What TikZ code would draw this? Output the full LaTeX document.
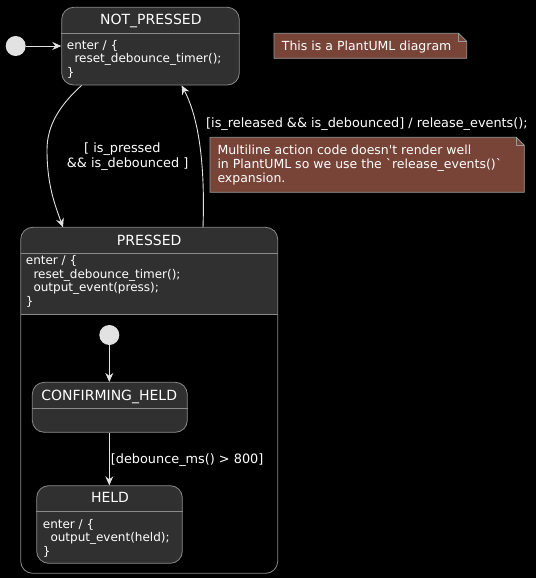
\documentclass[tikz,border=0pt]{standalone}
\usepackage{fontspec}
\setmainfont{DejaVu Sans}[Ligatures=TeXOff]
\usetikzlibrary{arrows.meta}
\definecolor{stfill}{HTML}{303030}
\definecolor{stline}{HTML}{8A8A8A}
\definecolor{edgec}{HTML}{E2E2E2}
\definecolor{notefill}{HTML}{774437}
\definecolor{noteline}{HTML}{9A9A9A}
\begin{document}
\begin{tikzpicture}[x=1pt,y=-1pt,
  statebox/.style={draw=stline, fill=stfill, rounded corners=12pt, line width=0.8pt, inner sep=0pt},
  ghost/.style={inner sep=0pt, outer sep=0pt},
  sep/.style={draw=stline, line width=0.8pt},
  ttl/.style={text=white, font=\fontsize{14}{16}\selectfont, anchor=base, inner sep=0pt},
  bodytxt/.style={text=white, font=\fontsize{12}{14}\selectfont, anchor=base west, inner sep=0pt},
  lbl/.style={text=white, font=\fontsize{12.85}{15}\selectfont, anchor=base west, inner sep=0pt},
  notetxt/.style={text=white, font=\fontsize{12.5}{14.5}\selectfont, anchor=base west, inner sep=0pt},
  notebox/.style={draw=noteline, fill=notefill, line width=0.8pt},
  edge/.style={draw=edgec, line width=0.9pt, -{Stealth[length=9pt,width=8pt,inset=3pt]}},
  init/.style={circle, fill=edgec, minimum size=20pt, inner sep=0pt}]
\useasboundingbox[fill=black] (0,0) rectangle (536,578);

% NOT_PRESSED
\node[statebox, minimum width=177.6pt, minimum height=77.7pt] (np) at (150.5,46.15) {};
\draw[sep] (np.west |- 0,33.3) -- (np.east |- 0,33.3);
\node[ttl] (npt) at (150.8,25) {NOT\_PRESSED};
\node[bodytxt] (npb1) at (66.7,49.3) {enter / \{};
\node[bodytxt] (npb2) at (66.7,63) {\ \ reset\_debounce\_timer();};
\node[bodytxt] (npb3) at (66.7,76.7) {\}};

% initial
\node[init] (i0) at (15.7,46) {};
\draw[edge] (i0) -- (np.west |- i0);

% note 1
\node[ghost, minimum width=192.7pt, minimum height=25pt] (n1) at (370.35,45.8) {};
\draw[notebox] (n1.north west) -- ([xshift=-8pt]n1.north east) -- ([yshift=-8pt]n1.north east) -- (n1.south east) -- (n1.south west) -- cycle;
\draw[noteline, line width=0.8pt] ([xshift=-8pt]n1.north east) -- ([xshift=-8pt,yshift=-8pt]n1.north east) -- ([yshift=-8pt]n1.north east);
\node[notetxt] (n1t) at (281.7,50.5) {This is a PlantUML diagram};

% note 2
\node[ghost, minimum width=314.3pt, minimum height=55pt] (n2) at (367.15,164.8) {};
\draw[notebox] (n2.north west) -- ([xshift=-8pt]n2.north east) -- ([yshift=-8pt]n2.north east) -- (n2.south east) -- (n2.south west) -- cycle;
\draw[noteline, line width=0.8pt] ([xshift=-8pt]n2.north east) -- ([xshift=-8pt,yshift=-8pt]n2.north east) -- ([yshift=-8pt]n2.north east);
\node[notetxt] (n2a) at (217.3,154.3) {Multiline action code doesn't render well};
\node[notetxt] (n2b) at (217.3,168.6) {in PlantUML so we use the `release\_events()`};
\node[notetxt] (n2c) at (217.3,182.9) {expansion.};

% PRESSED composite
\node[ghost, minimum width=257pt, minimum height=346pt] (pr) at (149.2,400.3) {};
\fill[stfill] (pr.west |- 0,314.3) {[rounded corners=12pt] -- (pr.north west) -- (pr.north east)} -- (pr.east |- 0,314.3) -- cycle;
\draw[stline, line width=0.8pt, rounded corners=12pt] (pr.north west) rectangle (pr.south east);
\draw[sep] (pr.west |- 0,253.3) -- (pr.east |- 0,253.3);
\draw[sep] (pr.west |- 0,314.3) -- (pr.east |- 0,314.3);
\node[ttl] (prt) at (149.2,245.7) {PRESSED};
\node[bodytxt] (prb1) at (25.7,264.3) {enter / \{};
\node[bodytxt] (prb2) at (25.7,278) {\ \ reset\_debounce\_timer();};
\node[bodytxt] (prb3) at (25.7,291.7) {\ \ output\_event(press);};
\node[bodytxt] (prb4) at (25.7,305.4) {\}};

% inner initial
\node[init] (i1) at (109.3,335) {};

% CONFIRMING_HELD
\node[statebox, minimum width=155pt, minimum height=50pt] (ch) at (109.8,407.3) {};
\draw[sep] (ch.west |- 0,408.3) -- (ch.east |- 0,408.3);
\node[ttl] (cht) at (109.2,400) {CONFIRMING\_HELD};

% HELD
\node[statebox, minimum width=145.6pt, minimum height=77.6pt] (hd) at (109.5,524.5) {};
\draw[sep] (hd.west |- 0,511.7) -- (hd.east |- 0,511.7);
\node[ttl] (hdt) at (110,502.7) {HELD};
\node[bodytxt] (hdb1) at (42.7,528.3) {enter / \{};
\node[bodytxt] (hdb2) at (42.7,541.9) {\ \ output\_event(held);};
\node[bodytxt] (hdb3) at (42.7,555.5) {\}};

% edges
\draw[edge] ([xshift=20.3pt]np.south west) .. controls (60,105) and (47,125) .. (47,150) .. controls (47,185) and (55,205) .. ([xshift=42.3pt]pr.north west);
\node[lbl] (l1a) at (84,152.5) {[ is\_pressed};
\node[lbl] (l1b) at (66.7,167.3) {\&\& is\_debounced ]};

\draw[edge] ([xshift=182.3pt]pr.north west) .. controls (205,170) and (200,120) .. ([xshift=120.3pt]np.south west);
\node[lbl] (l2) at (206,127.5) {[is\_released \&\& is\_debounced] / release\_events();};

\draw[edge] (i1) -- (i1 |- ch.north);
\draw[edge] (i1 |- ch.south) -- (i1 |- hd.north);
\node[lbl] (l3) at (110.7,463.3) {[debounce\_ms() > 800]};
\end{tikzpicture}
\end{document}
